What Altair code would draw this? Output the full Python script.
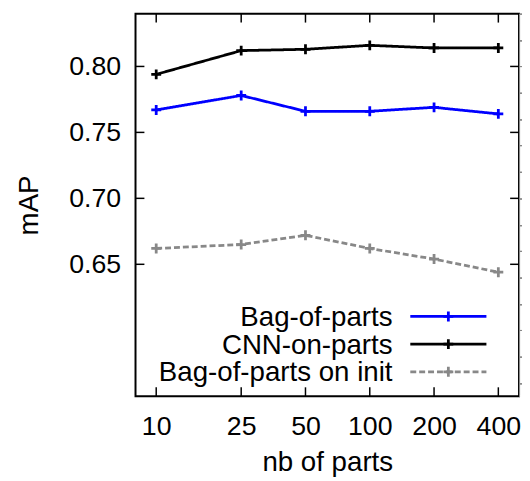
import altair as alt
import pandas as pd

parts = [10, 25, 50, 100, 200, 400]
bag_of_parts = [0.767, 0.778, 0.766, 0.766, 0.769, 0.764]
cnn_on_parts = [0.794, 0.812, 0.813, 0.816, 0.814, 0.814]
bag_init = [0.662, 0.665, 0.672, 0.662, 0.654, 0.644]

series_names = ["Bag-of-parts", "CNN-on-parts", "Bag-of-parts on init"]
series_colors = ["#0000ff", "#000000", "#888888"]
series_dash = [[1, 0], [1, 0], [6, 3]]
y_ticks = [0.65, 0.70, 0.75, 0.80]

rows = []
for name, vals in zip(series_names, [bag_of_parts, cnn_on_parts, bag_init]):
    for p, v in zip(parts, vals):
        rows.append({"series": name, "parts": p, "mAP": v})
df = pd.DataFrame(rows)

legend_df = pd.DataFrame({"series": series_names, "row": [0, 1, 2]})
xt = pd.DataFrame({"parts": parts})
yt = pd.DataFrame({"mAP": y_ticks})

W, H = 388, 387
FONT = "Liberation Sans"
FS = 28
LFS = 27
SW = 2.8
cross = "M-1,0H1M0,-1V1"

xscale = alt.Scale(type="log", domain=[8, 500], nice=False)
yscale = alt.Scale(domain=[0.55, 0.84], nice=False, zero=False)
color = alt.Color("series:N", scale=alt.Scale(domain=series_names, range=series_colors), legend=None)
dash = alt.StrokeDash("series:N", scale=alt.Scale(domain=series_names, range=series_dash), legend=None)

X = alt.X("parts:Q", scale=xscale,
          axis=alt.Axis(values=parts, format="d", ticks=False, domain=False, grid=False,
                        labelFontSize=LFS, labelFont=FONT, labelPadding=18, labelColor="black",
                        labelFlush=False, labelOverlap=False,
                        title="nb of parts", titleFontSize=FS, titleFont=FONT,
                        titleFontWeight="normal", titlePadding=9, titleColor="black"))
Y = alt.Y("mAP:Q", scale=yscale,
          axis=alt.Axis(values=y_ticks, format=".2f", ticks=False, domain=False, grid=False,
                        labelFontSize=LFS, labelFont=FONT, labelPadding=15, labelColor="black",
                        title="mAP", titleFontSize=FS, titleFont=FONT,
                        titleFontWeight="normal", titlePadding=26, titleColor="black"))

base = alt.Chart(df)
lines = base.mark_line(strokeWidth=SW).encode(x=X, y=Y, color=color, strokeDash=dash, detail="series:N")
points = base.mark_point(shape=cross, size=100, filled=False, strokeWidth=SW, opacity=1).encode(
    x=alt.X("parts:Q", scale=xscale), y=alt.Y("mAP:Q", scale=yscale), color=color)

tk = dict(color="black", strokeWidth=1.5)
xb = alt.Chart(xt).mark_rule(**tk).encode(x=alt.X("parts:Q", scale=xscale), y=alt.value(H), y2=alt.value(H - 9))
xtop = alt.Chart(xt).mark_rule(**tk).encode(x=alt.X("parts:Q", scale=xscale), y=alt.value(0), y2=alt.value(9))
yl = alt.Chart(yt).mark_rule(**tk).encode(y=alt.Y("mAP:Q", scale=yscale), x=alt.value(0), x2=alt.value(9))
yr = alt.Chart(yt).mark_rule(**tk).encode(y=alt.Y("mAP:Q", scale=yscale), x=alt.value(W), x2=alt.value(W - 9))

ly = alt.Y("row:Q", scale=alt.Scale(domain=[0, 2], range=[306.3, 362.3]), axis=None)
lg = alt.Chart(legend_df)
leg_text = lg.mark_text(align="right", baseline="alphabetic", dy=9.5, fontSize=FS, font=FONT,
                        color="black").encode(x=alt.value(260), y=ly, text="series:N")
leg_line = lg.mark_rule(strokeWidth=SW).encode(
    x=alt.value(278), x2=alt.value(355), y=ly, color=color, strokeDash=dash)
leg_pt = lg.mark_point(shape=cross, size=100, filled=False, strokeWidth=SW, opacity=1).encode(
    x=alt.value(316.5), y=ly, color=color)

chart = alt.layer(lines, points, xb, xtop, yl, yr, leg_line, leg_pt, leg_text).resolve_scale(
    y="independent"
).properties(
    width=W, height=H,
    autosize=alt.AutoSizeParams(type="none"),
    padding={"left": 129, "top": 3, "right": 3, "bottom": 80},
).configure_view(stroke="black", strokeWidth=2)

chart.save("out.html", embed_options={"renderer": "svg", "actions": False})
